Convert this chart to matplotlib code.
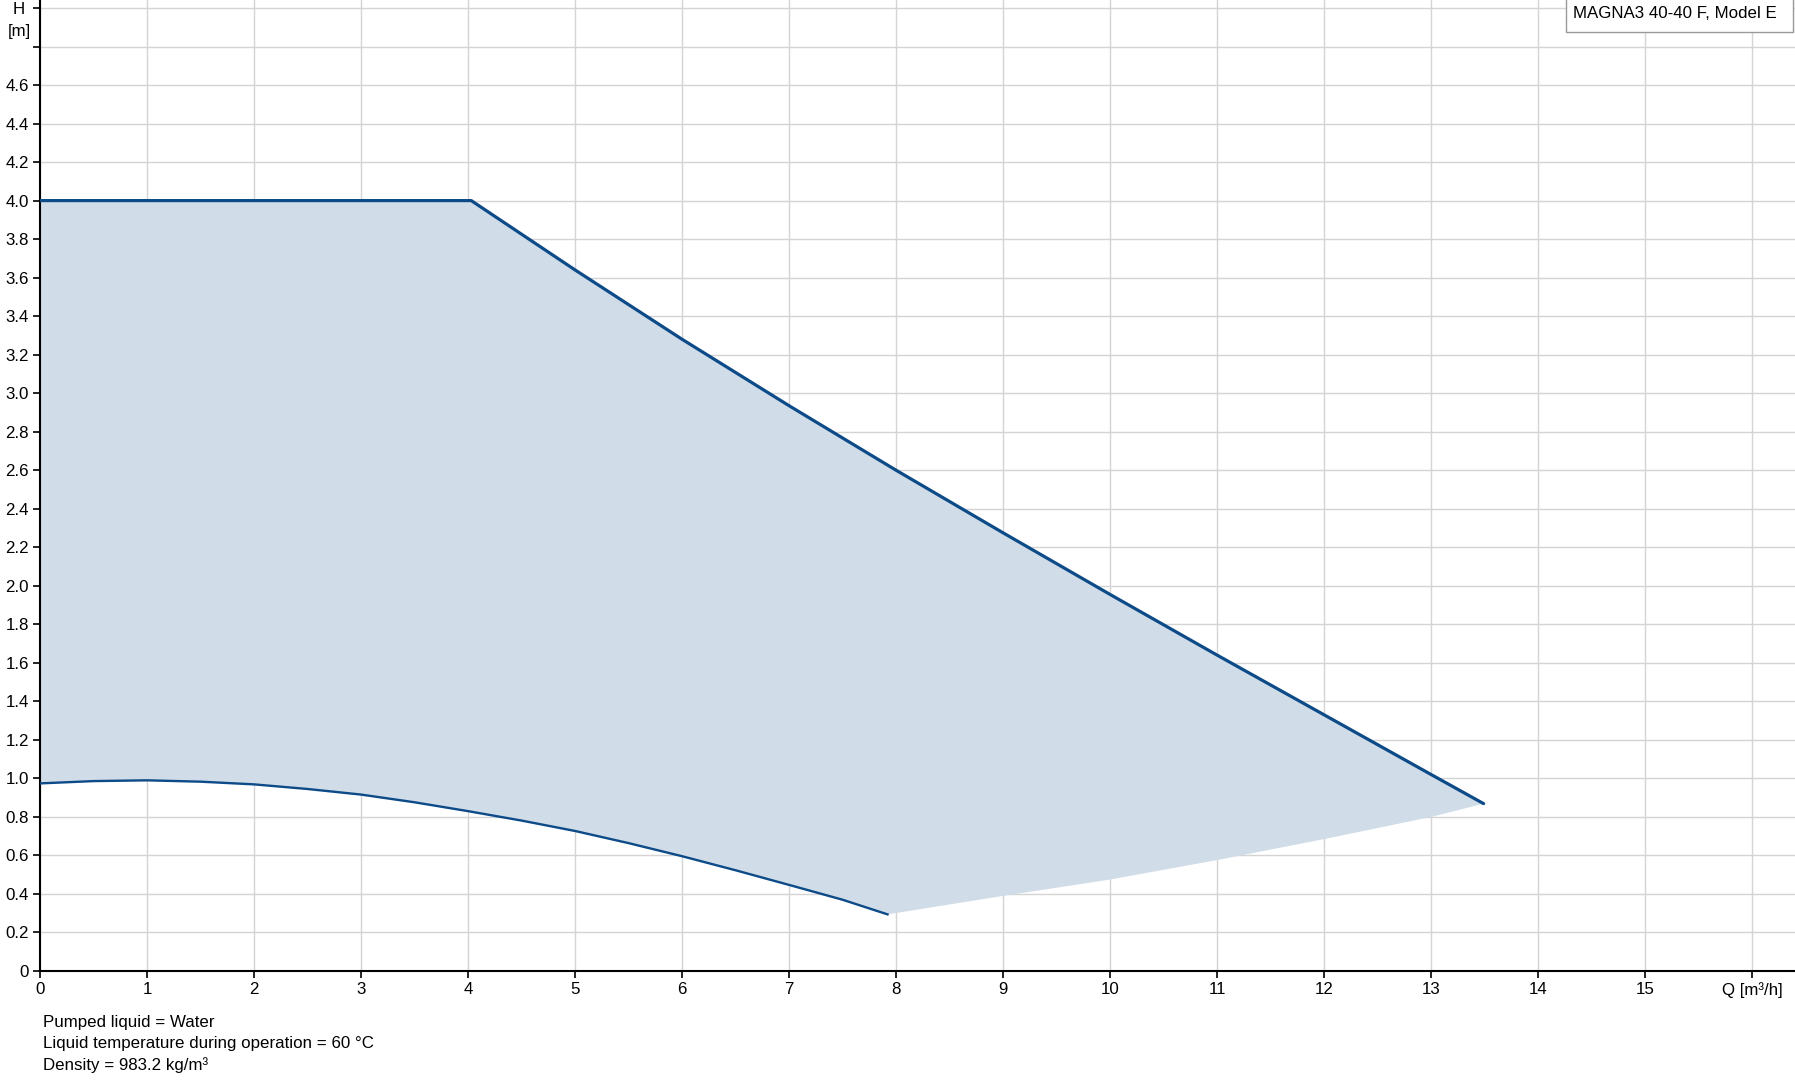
import numpy as np
import matplotlib.pyplot as plt
from matplotlib.patches import Rectangle

plt.rcParams['font.family'] = ['Liberation Sans', 'DejaVu Sans']
plt.rcParams['font.size'] = 12.2

# Pump curve data (Q in m3/h, H in m)
q_max = [0, 1, 2, 3, 4, 4.03, 5, 6, 7, 8, 9, 10, 11, 12, 13, 13.49]
h_max = [4.0, 4.0, 4.0, 4.0, 4.0, 4.0, 3.64, 3.28, 2.935, 2.6, 2.275, 1.955, 1.64, 1.33, 1.02, 0.869]

q_min = [0, 0.5, 1, 1.5, 2, 2.5, 3, 3.5, 4, 4.5, 5, 5.5, 6, 6.5, 7, 7.5, 7.92]
h_min = [0.974, 0.986, 0.99, 0.983, 0.969, 0.945, 0.916, 0.876, 0.83, 0.781, 0.727,
         0.664, 0.596, 0.523, 0.447, 0.37, 0.294]

q_edge = [7.92, 9, 10, 11, 12, 13, 13.49]
h_edge = [0.294, 0.39, 0.475, 0.576, 0.685, 0.80, 0.869]

x_ticks = list(range(0, 17))
x_labels = [str(i) for i in range(16)] + ['Q [m³/h]']
y_ticks = np.round(np.arange(0, 5.01, 0.2), 1)
y_labels = ['0'] + ['%.1f' % v for v in y_ticks[1:24]] + ['', '']

notes = ['Pumped liquid = Water',
         'Liquid temperature during operation = 60 °C',
         'Density = 983.2 kg/m³']
title = 'MAGNA3 40-40 F, Model E'

W, H = 1795, 1081
y0 = 971.0  # pixel row of H = 0
fig = plt.figure(figsize=(W / 100, H / 100), dpi=100)
ax = fig.add_axes([40 / W, (H - y0) / H, 1 - 40 / W, y0 / H])

line_col = '#0c4a88'
fill_col = '#d0dce7'

# shaded area: top curve forward, bottom edges back
poly_x = q_max + q_edge[::-1] + q_min[::-1]
poly_y = h_max + h_edge[::-1] + h_min[::-1]
ax.fill(poly_x, poly_y, color=fill_col, lw=0, zorder=1)
ax.plot(q_max, h_max, color=line_col, lw=2.3, zorder=3, solid_capstyle='round')
ax.plot(q_min, h_min, color=line_col, lw=1.7, zorder=3)

ax.set_xlim(0, 16.4)
ax.set_ylim(0, y0 / 192.6)
ax.set_xticks(x_ticks)
ax.set_xticklabels(x_labels)
ax.set_yticks(y_ticks)
ax.set_yticklabels(y_labels)
ax.grid(True, color='#d4d4d4', lw=1)
ax.set_axisbelow(True)
for s in ['top', 'right']:
    ax.spines[s].set_visible(False)
for s in ['left', 'bottom']:
    ax.spines[s].set_linewidth(1.5)
ax.tick_params(direction='out', length=5, width=1.2, pad=3)

# axis name at the top of the y axis
fig.text(19 / W, 1 - 9.5 / H, 'H', ha='center', va='center')
fig.text(19 / W, 1 - 31.5 / H, '[m]', ha='center', va='center')

# model box in the top right corner
fig.patches.append(Rectangle((1566 / W, 1 - 32 / H), 227 / W, 34 / H,
                             transform=fig.transFigure, fc='white',
                             ec='#999999', lw=1, zorder=5))
fig.text(1573 / W, 1 - 13.5 / H, title, ha='left', va='center', zorder=6)

for i, t in enumerate(notes):
    fig.text(43 / W, 1 - (1022 + i * 21.5) / H, t, ha='left', va='center')

fig.savefig('out.png', dpi=100)
